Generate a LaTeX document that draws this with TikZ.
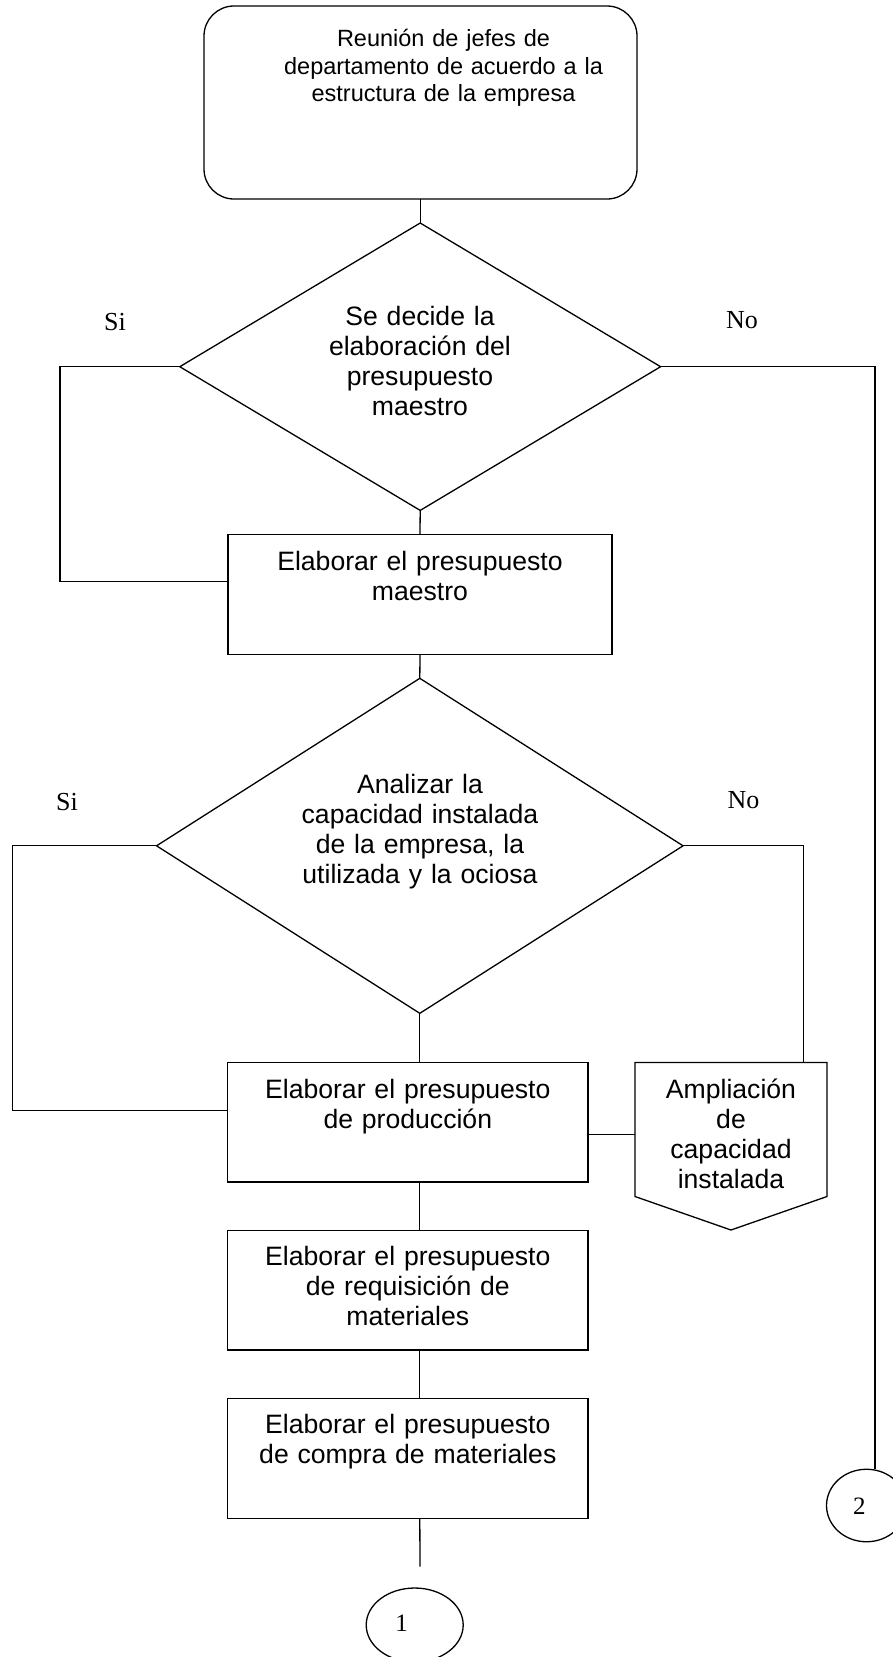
\documentclass[tikz,border=0pt]{standalone}
\usepackage{fontspec}
\newfontfamily\sansf{Liberation Sans}
\newfontfamily\serf{Liberation Serif}
\usetikzlibrary{shapes.geometric}
\begin{document}
\begin{tikzpicture}[x=1pt,y=-1pt, line width=1.3pt,
  shp/.style={draw, inner sep=0pt, outer sep=0pt},
  boxtxt/.style={anchor=base, text width=420pt, align=center, inner sep=0pt, font=\sansf\fontsize{26.6}{30.2}\selectfont},
  toptxt/.style={anchor=base, text width=420pt, align=center, inner sep=0pt, font=\sansf\fontsize{23.5}{27.5}\selectfont},
  lbl/.style={anchor=base, inner sep=0pt, font=\serf\fontsize{26}{30}\selectfont},
  num/.style={inner sep=0pt, font=\serf\fontsize{25}{30}\selectfont}]
\useasboundingbox (0,0) rectangle (893,1657);

\node[shp, rounded corners=30pt, minimum width=433pt, minimum height=193pt] (top) at (420.5,102.5) {};
\node[toptxt] (toptext) at (443.5,46.7) {Reunión de jefes de\\departamento de acuerdo a la\\estructura de la empresa};

\node[shp, diamond, minimum width=480.8pt, minimum height=287.4pt] (d1) at (420.2,366.7) {};
\node[boxtxt] (d1t) at (420,325) {Se decide la\\elaboración del\\presupuesto\\maestro};

\node[shp, minimum width=384pt, minimum height=119.8pt] (b2) at (420,594.4) {};
\node[boxtxt] (b2t) at (420,570) {Elaborar el presupuesto\\maestro};

\node[shp, diamond, minimum width=526.5pt, minimum height=335pt] (d2) at (419.8,845.8) {};
\node[boxtxt] (d2t) at (420,793.3) {Analizar la\\capacidad instalada\\de la empresa, la\\utilizada y la ociosa};

\node[shp, minimum width=360.5pt, minimum height=119.5pt] (b3) at (407.8,1122.3) {};
\node[boxtxt] (b3t) at (407.8,1098.3) {Elaborar el presupuesto\\de producción};

\node[inner sep=0pt, outer sep=0pt, minimum width=192pt, minimum height=134pt] (amp) at (731,1129.5) {};
\coordinate (amptip) at (731,1230);
\draw (amp.north west) -- (amp.north east) -- (amp.south east) -- (amptip) -- (amp.south west) -- cycle;
\node[boxtxt, text width=190pt] (ampt) at (731,1098.3) {Ampliación\\de\\capacidad\\instalada};

\node[shp, minimum width=360.5pt, minimum height=119.5pt] (b4) at (407.8,1290.3) {};
\node[boxtxt] (b4t) at (407.8,1265) {Elaborar el presupuesto\\de requisición de\\materiales};

\node[shp, minimum width=360.5pt, minimum height=120pt] (b5) at (407.8,1458.3) {};
\node[boxtxt] (b5t) at (407.8,1433.3) {Elaborar el presupuesto\\de compra de materiales};

\node[shp, ellipse, minimum width=97pt, minimum height=74pt] (c1) at (414.7,1625) {};
\node[num] (c1t) at (401.5,1623.3) {1};
\node[shp, ellipse, minimum width=80pt, minimum height=72.5pt] (c2) at (866.5,1505.5) {};
\node[num] (c2t) at (859.3,1506.7) {2};

\node[lbl] (si1) at (115,330) {Si};
\node[lbl] (no1) at (742,328.5) {No};
\node[lbl] (si2) at (67,810) {Si};
\node[lbl] (no2) at (743.6,808.3) {No};

\draw (top.south) -- (top.south |- d1.north);
\draw (d1.south) -- (b2.north);
\draw (b2.south) -- (d2.north);
\draw (d2.south) -- (d2.south |- b3.north);
\draw (d2.south |- b3.south) -- (d2.south |- b4.north);
\draw (d2.south |- b4.south) -- (d2.south |- b5.north);
\coordinate (e1) at (420,1566.7);
\draw (d2.south |- b5.south) -- (e1);

\coordinate (l1) at (60,366.7);
\coordinate (l1b) at (60,581.5);
\draw (d1.west) -- (l1) -- (l1b) -- (b2.west |- l1b);
\coordinate (l2) at (12.5,845.8);
\coordinate (l2b) at (12.5,1110.5);
\draw (d2.west) -- (l2) -- (l2b) -- (b3.west |- l2b);
\coordinate (r1) at (875,366.7);
\draw (d1.east) -- (r1) -- (r1 |- c2.north);
\coordinate (r2) at (803.5,845.8);
\draw (d2.east) -- (r2) -- (r2 |- amp.north);
\coordinate (m3) at (600,1134.3);
\draw (b3.east |- m3) -- (amp.west |- m3);
\end{tikzpicture}
\end{document}
